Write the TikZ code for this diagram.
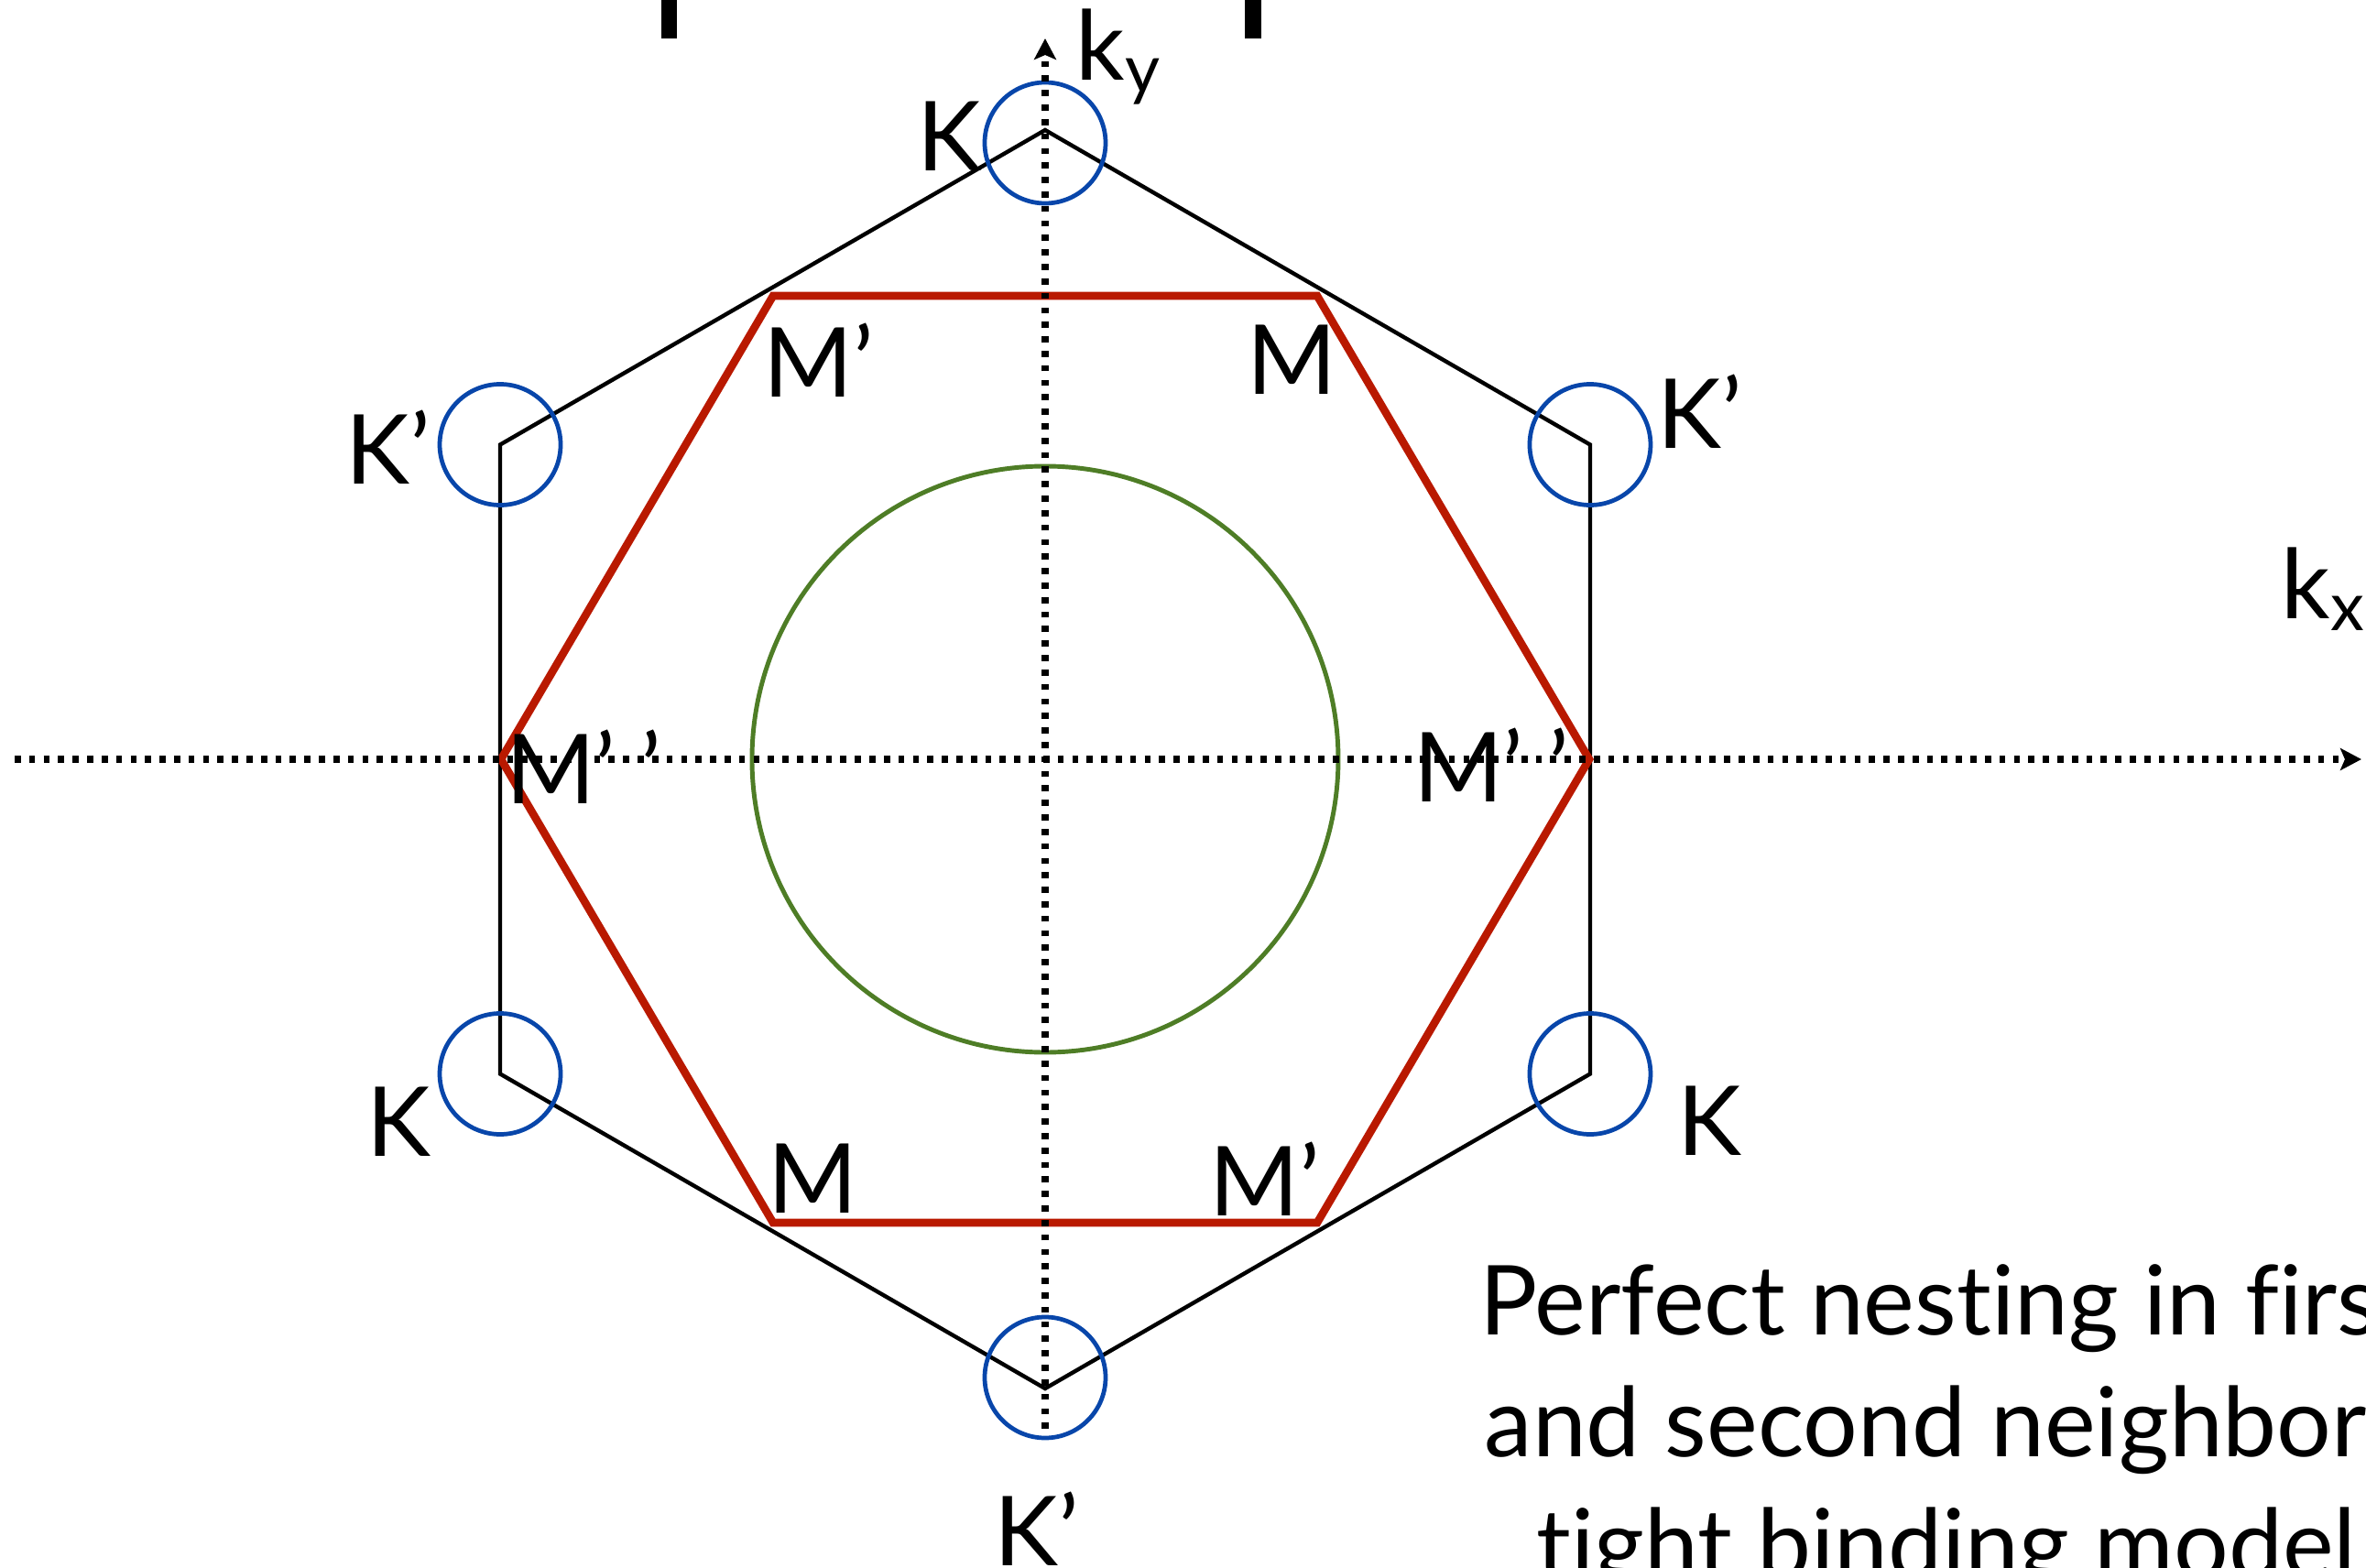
\documentclass[tikz,border=0pt]{standalone}
\usepackage{fontspec}
\setmainfont{Lato}[Ligatures=NoCommon]
\usetikzlibrary{arrows.meta}
\definecolor{kblue}{RGB}{8,70,170}
\definecolor{mred}{RGB}{185,25,0}
\definecolor{fgreen}{RGB}{78,125,38}
\begin{document}
\begin{tikzpicture}[
axis/.style={line width=2.2pt, dash pattern=on 1.9pt off 2.6pt},
zone/.style={line width=1.25pt, line join=miter},
nest/.style={draw=mred, line width=2.45pt, line join=miter},
valley/.style={circle, draw=kblue, line width=1.35pt, minimum size=1.32cm, inner sep=0pt},
lbl/.style={font=\fontsize{30}{36}\selectfont, inner sep=0pt}
]
\useasboundingbox (-11.41,-8.82) rectangle (14.42,8.29);
\fill (-4.19,8.29) rectangle (-4.02,7.87);
\fill (2.18,8.29) rectangle (2.36,7.87);
\foreach \a [count=\i] in {90,30,-30,-90,-150,150}
  \coordinate (k\i) at (\a:6.87);
\coordinate (m1) at (2.97,5.06);
\coordinate (m2) at (5.94,0);
\coordinate (m3) at (2.97,-5.06);
\coordinate (m4) at (-2.97,-5.06);
\coordinate (m5) at (-5.94,0);
\coordinate (m6) at (-2.97,5.06);
\coordinate (xl) at (-11.25,0);
\coordinate (xr) at (14.37,0);
\coordinate (yb) at (0,-7.31);
\coordinate (yt) at (0,7.87);
\draw[zone] (k1) -- (k2) -- (k3) -- (k4) -- (k5) -- (k6) -- cycle;
\draw[nest] (m1) -- (m2) -- (m3) -- (m4) -- (m5) -- (m6) -- cycle;
\node[circle, draw=fgreen, line width=1.4pt, minimum size=6.4cm] (fs) at (0,0) {};
\node[valley, yshift=-1.4mm] (v1) at (k1) {};
\node[valley] (v2) at (k2) {};
\node[valley] (v3) at (k3) {};
\node[valley, yshift=1.2mm] (v4) at (k4) {};
\node[valley] (v5) at (k5) {};
\node[valley] (v6) at (k6) {};
\draw[axis, -{Stealth[length=0.23cm, width=0.24cm, inset=0.05cm]}] (xl) -- (xr);
\draw[axis, -{Stealth[length=0.23cm, width=0.24cm, inset=0.05cm]}] (yb) -- (yt);
\node[lbl] (lk1) at (-1.05,6.80) {K};
\node[lbl] (lk2) at (7.15,3.80) {K’};
\node[lbl] (lk3) at (7.25,-3.95) {K};
\node[lbl] (lk4) at (-0.09,-8.40) {K’};
\node[lbl] (lk5) at (-7.06,-3.96) {K};
\node[lbl] (lk6) at (-7.17,3.41) {K’};
\node[lbl] (lm1) at (2.69,4.36) {M};
\node[lbl] (lm2) at (4.87,-0.06) {M’ ’};
\node[lbl] (lm3) at (2.40,-4.58) {M’};
\node[lbl] (lm4) at (-2.54,-4.58) {M};
\node[lbl] (lm5) at (-5.04,-0.08) {M’ ’};
\node[lbl] (lm6) at (-2.47,4.36) {M’};
\node[lbl, anchor=base west] (kx) at (13.49,1.54) {k\textsubscript{x}};
\node[lbl, anchor=base west] (ky) at (0.33,7.41) {k\textsubscript{y}};
\node[lbl, anchor=base] (cap1) at (9.84,-6.28) {Perfect nesting in first};
\node[lbl, anchor=base] (cap2) at (9.84,-7.61) {and second neighbors};
\node[lbl, anchor=base] (cap3) at (9.84,-8.94) {tight binding model};
\end{tikzpicture}
\end{document}
